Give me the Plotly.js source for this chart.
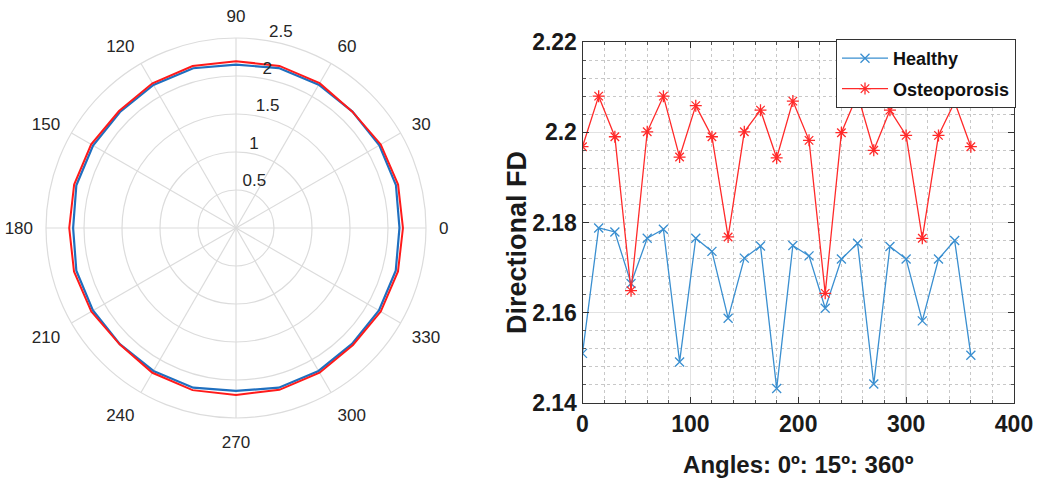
<!DOCTYPE html>
<html>
<head>
<meta charset="utf-8">
<script src="https://cdn.plot.ly/plotly-3.0.1.min.js"></script>
<style>html,body{margin:0;padding:0;background:#fff;}#chart{width:1038px;height:482px;}</style>
</head>
<body>
<div id="chart"></div>
<script>
// Angles 0:15:360 (degrees)
const angles = [0,15,30,45,60,75,90,105,120,135,150,165,180,195,210,225,240,255,270,285,300,315,330,345,360];
// Directional fractal dimension, healthy
const healthy = [2.1510,2.1788,2.1779,2.1665,2.1765,2.1785,2.1491,2.1765,2.1736,2.1588,2.1721,2.1748,2.1432,2.1749,2.1726,2.1610,2.1719,2.1754,2.1442,2.1747,2.1719,2.1582,2.1719,2.1760,2.1506];
// Directional fractal dimension, osteoporosis
const osteo = [2.1968,2.2080,2.1990,2.1649,2.2001,2.2080,2.1945,2.2059,2.1990,2.1768,2.2001,2.2049,2.1943,2.2069,2.1982,2.1643,2.1999,2.2084,2.1960,2.2049,2.1993,2.1765,2.1993,2.2067,2.1968];
const seriesNames = ['Healthy','Osteoporosis'];
const polarAngleTicks = [0,30,60,90,120,150,180,210,240,270,300,330];
const polarRadialTicks = [0.5,1,1.5,2,2.5];
const polarRadialText = ['0.5','1','1.5','2','2.5'];
const radialLabelAngle = 80;
const xTicks = [0,100,200,300,400];
const yTicks = [2.14,2.16,2.18,2.2,2.22];
const yTickText = ['2.14','2.16','2.18','2.2','2.22'];
const xTitle = 'Angles: 0º: 15º: 360º';
const yTitle = 'Directional FD';

const W = 1038, H = 482;
const blueP = '#1f6fbf', redP = '#ff1a1a';
const blueC = '#3a8fd0', redC = '#ff2a2a';
const boldFont = 'Liberation Sans Narrow, Arial Narrow, Liberation Sans, Arial, sans-serif';
const plainFont = 'Liberation Sans, Arial, sans-serif';

const traces = [
  {type:'scatterpolar', r:healthy, theta:angles, mode:'lines', line:{color:blueP,width:2.2}, showlegend:false, subplot:'polar', hoverinfo:'skip'},
  {type:'scatterpolar', r:osteo, theta:angles, mode:'lines', line:{color:redP,width:2}, showlegend:false, subplot:'polar', hoverinfo:'skip'},
  {type:'scatterpolar', r:polarRadialTicks, theta:polarRadialTicks.map(()=>radialLabelAngle), mode:'text',
   text:polarRadialText, textposition:'top right', textfont:{family:plainFont, size:17, color:'#262626'},
   showlegend:false, subplot:'polar', hoverinfo:'skip', cliponaxis:false},
  {type:'scatter', x:angles, y:healthy, name:seriesNames[0], legendgroup:'h', mode:'lines+markers',
   line:{color:blueC,width:1.3}, marker:{symbol:'x-thin-open',size:9,color:blueC,line:{color:blueC,width:1.3}}},
  {type:'scatter', x:angles, y:osteo, name:seriesNames[1], legendgroup:'o', mode:'lines+markers',
   line:{color:redC,width:1.3}, marker:{symbol:'asterisk-open',size:10,color:redC,line:{color:redC,width:1.3}}}
];

const layout = {
  width:W, height:H,
  margin:{l:0,r:0,t:0,b:0},
  paper_bgcolor:'#fff', plot_bgcolor:'#fff',
  showlegend:true,
  polar:{
    domain:{x:[46/W,426/W], y:[1-418/H,1-38/H]},
    bgcolor:'#fff',
    radialaxis:{range:[0,2.5], tickvals:polarRadialTicks, showticklabels:false,
      angle:80, showline:false, ticks:'', gridcolor:'#dcdcdc', gridwidth:1.2},
    angularaxis:{tickvals:polarAngleTicks, direction:'counterclockwise', rotation:0, ticks:'outside', ticklen:9, tickcolor:'rgba(0,0,0,0)',
      showline:true, linecolor:'#dcdcdc', linewidth:1.2, gridcolor:'#dcdcdc', gridwidth:1.2,
      tickfont:{family:plainFont, size:17, color:'#262626'}}
  },
  xaxis:{
    domain:[582.5/W,1014/W], range:[0,400], tickvals:xTicks, ticks:'inside', ticklen:6, tickcolor:'#333',
    showline:true, linecolor:'#333', linewidth:1, mirror:'ticks', zeroline:false,
    showgrid:true, gridcolor:'#e2e2e2', gridwidth:1.3,
    minor:{dtick:20, ticks:'inside', ticklen:3, tickcolor:'#555', showgrid:true, gridcolor:'#c8c8c8', griddash:'dot', gridwidth:1},
    tickfont:{family:boldFont, size:23, color:'#1a1a1a', weight:'bold'},
    title:{text:xTitle, font:{family:boldFont, size:24, color:'#1a1a1a', weight:'bold'}, standoff:20}
  },
  yaxis:{
    domain:[1-403/H,1-42/H], range:[2.14,2.22], tickvals:yTicks, ticktext:yTickText, ticks:'inside', ticklen:6, tickcolor:'#333',
    showline:true, linecolor:'#333', linewidth:1, mirror:'ticks', zeroline:false,
    showgrid:true, gridcolor:'#e2e2e2', gridwidth:1.3,
    minor:{dtick:0.004, ticks:'inside', ticklen:3, tickcolor:'#555', showgrid:true, gridcolor:'#c8c8c8', griddash:'dot', gridwidth:1},
    tickfont:{family:boldFont, size:23, color:'#1a1a1a', weight:'bold'}
  },
  annotations:[
    {text:yTitle, xref:'paper', yref:'paper', x:517/W, y:1-243/H, xanchor:'center', yanchor:'middle', textangle:-90,
     showarrow:false, font:{family:plainFont, size:27, color:'#1a1a1a', weight:'bold'}}
  ],
  legend:{x:1016/W, xanchor:'right', y:1-39/H, yanchor:'top', bgcolor:'#fff', bordercolor:'#333', borderwidth:1,
    font:{family:plainFont, size:18, color:'#111', weight:'bold'}, tracegroupgap:4, itemwidth:46, entrywidth:180}
};

Plotly.newPlot('chart', traces, layout, {displayModeBar:false, staticPlot:true});
</script>
</body>
</html>
